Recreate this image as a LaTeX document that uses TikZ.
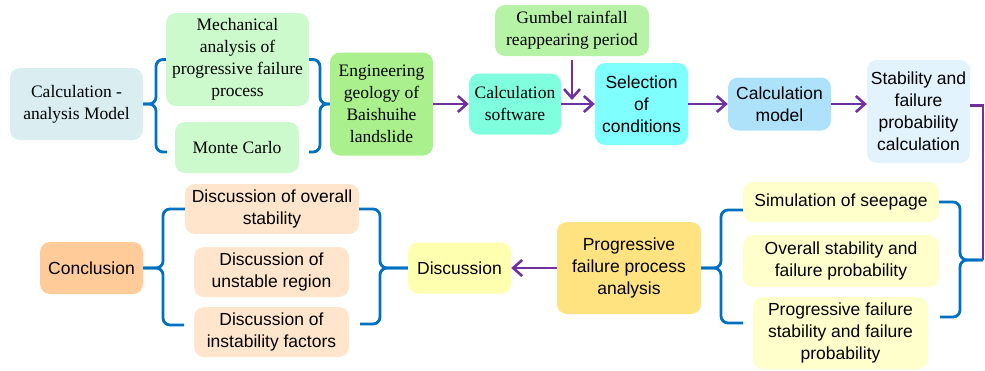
\documentclass[tikz,border=0pt]{standalone}
\usepackage{fontspec}
\setmainfont{Liberation Serif}
\setsansfont{Liberation Sans}
\usepackage{xcolor}
\usepackage{tikz}
\usetikzlibrary{arrows.meta, positioning}

\definecolor{flowpurple}{HTML}{7030A0}
\definecolor{braceblue}{HTML}{0070C0}
\definecolor{modelgray}{HTML}{DAEEF2}
\definecolor{mechgreen}{HTML}{CCFACC}
\definecolor{geogreen}{HTML}{AAF08C}
\definecolor{gumgreen}{HTML}{B6F3A6}
\definecolor{softaqua}{HTML}{80FFDF}
\definecolor{selcyan}{HTML}{80FFFF}
\definecolor{cmodblue}{HTML}{AEE2FA}
\definecolor{stabblue}{HTML}{E2F3FD}
\definecolor{seepyellow}{HTML}{FFFFCC}
\definecolor{pfpagold}{HTML}{FFE380}
\definecolor{discyellow}{HTML}{FFFFB0}
\definecolor{discpeach}{HTML}{FFE5CC}
\definecolor{concorange}{HTML}{FFCC99}

\begin{document}
\begin{tikzpicture}[x=1pt, y=-1pt,
        box/.style={rectangle, rounded corners=10pt, inner sep=0pt, align=center},
        serifbox/.style={box, font=\fontsize{17.5}{22}\selectfont\rmfamily},
        sansbox/.style={box, font=\fontsize{17.5}{22}\selectfont\sffamily},
        flow/.style={draw=flowpurple, line width=2.6pt, -{Straight Barb[length=9pt,width=16pt]}},
        link/.style={draw=flowpurple, line width=2.6pt},
        brace/.style={draw=braceblue, line width=2.8pt, rounded corners=7pt}
    ]
        \useasboundingbox (0,0) rectangle (985,370);

        % ================= TOP ROW =================
        \node[serifbox, fill=modelgray, minimum width=133pt, minimum height=72pt] (calc) at (76.5,104) {Calculation -\\analysis Model};
        \node[serifbox, fill=mechgreen, minimum width=143pt, minimum height=93pt] (mech) at (237.5,59.5) {Mechanical\\analysis of\\progressive failure\\process};
        \node[serifbox, fill=mechgreen, minimum width=124pt, minimum height=51pt] (mono) at (237,147.5) {Monte Carlo};
        \node[serifbox, fill=geogreen, minimum width=103pt, minimum height=103pt] (geo) at (381.5,104) {Engineering\\geology of\\Baishuihe\\landslide};
        \node[serifbox, fill=softaqua, minimum width=92pt, minimum height=61pt] (soft) at (515,104) {Calculation\\software};
        \node[serifbox, fill=gumgreen, minimum width=154pt, minimum height=51pt] (gum) at (572,30.5) {Gumbel rainfall\\reappearing period};
        \node[sansbox, fill=selcyan, minimum width=93pt, minimum height=82pt] (sel) at (641.5,104) {Selection\\of\\conditions};
        \node[sansbox, fill=cmodblue, minimum width=103pt, minimum height=53pt] (cmod) at (779.5,104) {Calculation\\model};
        \node[sansbox, fill=stabblue, minimum width=103pt, minimum height=103pt] (stab) at (918.5,111.5) {Stability and\\failure\\probability\\calculation};

        \draw[flow] (geo.east) -- (soft.west);
        \draw[flow] (soft.east) -- (sel.west);
        \draw[flow] ([yshift=-4pt]gum.south) -- ([yshift=4pt]gum.south |- sel.west);
        \draw[flow] (sel.east) -- (cmod.west);
        \draw[flow] (cmod.east) -- (cmod.east -| stab.west);

        % braces round the two methods
        \coordinate (bA) at (156,104);
        \coordinate (tA) at (167,152);
        \draw[brace] (mech.west) -| (bA) -- (calc.east |- bA);
        \draw[brace] (tA) -| (bA) -- (calc.east |- bA);
        \coordinate (bB) at (320,104);
        \coordinate (tB) at (309,152);
        \draw[brace] (mech.east) -| (bB) -- (geo.west |- bB);
        \draw[brace] (tB) -| (bB) -- (geo.west |- bB);

        % ================= BOTTOM ROW =================
        \node[sansbox, fill=seepyellow, minimum width=196pt, minimum height=40pt] (seep) at (841,202) {Simulation of seepage};
        \node[sansbox, fill=seepyellow, minimum width=196pt, minimum height=52pt] (over) at (841,261) {Overall stability and\\failure probability};
        \node[sansbox, fill=seepyellow, minimum width=175pt, minimum height=72pt] (prog) at (840.5,333) {Progressive failure\\stability and failure\\probability};
        \node[sansbox, fill=pfpagold, minimum width=144pt, minimum height=92pt] (pfpa) at (629,268) {Progressive\\failure process\\analysis};
        \node[sansbox, fill=discyellow, minimum width=103pt, minimum height=51pt] (disc) at (459.5,268) {Discussion};
        \node[sansbox, fill=discpeach, minimum width=174pt, minimum height=50pt] (dovr) at (272,209) {Discussion of overall\\stability};
        \node[sansbox, fill=discpeach, minimum width=155pt, minimum height=50pt] (duns) at (271.5,272) {Discussion of\\unstable region};
        \node[sansbox, fill=discpeach, minimum width=155pt, minimum height=50pt] (dins) at (271.5,332) {Discussion of\\instability factors};
        \node[sansbox, fill=concorange, minimum width=103pt, minimum height=52pt] (conc) at (91.5,268) {Conclusion};

        % line down the right side
        \coordinate (rtip) at (983,260);
        \draw[link] ([yshift=6pt]stab.east) -| (rtip);

        % braces round the calculation results
        \coordinate (bC) at (960,260);
        \coordinate (tC) at (940,317);
        \draw[brace] (seep.east) -| (bC) -- (rtip);
        \draw[brace] (tC) -| (bC) -- (rtip);
        \coordinate (bD) at (721,268);
        \coordinate (tD) at (743,323);
        \draw[brace] ([yshift=-8pt]seep.west) -| (bD) -- (pfpa.east);
        \draw[brace] (tD) -| (bD) -- (pfpa.east);

        \draw[flow] (pfpa.west) -- (disc.east);

        % braces round the discussions
        \coordinate (bE) at (380,268);
        \coordinate (tE) at (360,324);
        \draw[brace] (dovr.east) -| (bE) -- (disc.west);
        \draw[brace] (tE) -| (bE) -- (disc.west);
        \coordinate (bF) at (163,268);
        \coordinate (tF) at (184,325);
        \draw[brace] (dovr.west) -| (bF) -- (conc.east);
        \draw[brace] (tF) -| (bF) -- (conc.east);
    \end{tikzpicture}
\end{document}
